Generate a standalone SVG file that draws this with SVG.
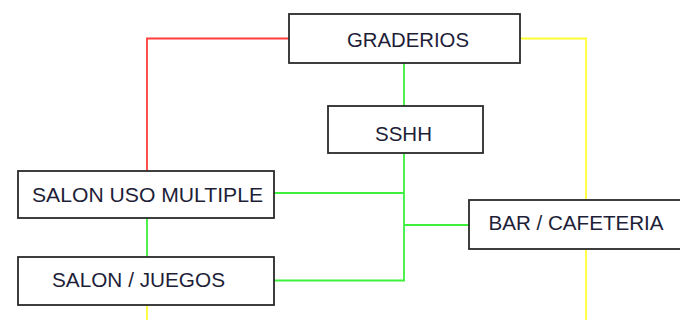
<svg xmlns="http://www.w3.org/2000/svg" width="680" height="320" viewBox="0 0 680 320">
<style>
.box{fill:#ffffff;stroke:#2a2a2a;stroke-width:1.8}
.lbl{font-family:"Liberation Sans",Arial,sans-serif;font-size:21px;fill:#1e1e38}
.ln{fill:none;stroke-width:1.8}
.red{stroke:#ff3c3c}
.grn{stroke:#3cf03c}
.yel{stroke:#ffff33}
</style>
<rect width="680" height="320" fill="#ffffff"/>
<g id="connectors">
<polyline class="ln red" points="289,38.5 147,38.5 147,171"/>
<polyline class="ln yel" points="520,38.5 586,38.5 586,200"/>
<line class="ln yel" x1="586" y1="249" x2="586" y2="320"/>
<line class="ln yel" x1="147" y1="305" x2="147" y2="320"/>
<line class="ln grn" x1="404" y1="63" x2="404" y2="106"/>
<polyline class="ln grn" points="404,153 404,280.5 274,280.5"/>
<line class="ln grn" x1="274" y1="193" x2="404" y2="193"/>
<line class="ln grn" x1="404" y1="225" x2="469" y2="225"/>
<line class="ln grn" x1="147" y1="218" x2="147" y2="257"/>
</g>
<g id="graderios">
<rect class="box" x="289" y="14" width="231" height="49"/>
<text class="lbl" x="347" y="46.5" textLength="122" lengthAdjust="spacingAndGlyphs">GRADERIOS</text>
</g>
<g id="sshh">
<rect class="box" x="328" y="106" width="155" height="47"/>
<text class="lbl" x="375" y="141" textLength="57" lengthAdjust="spacingAndGlyphs">SSHH</text>
</g>
<g id="salon-uso-multiple">
<rect class="box" x="18" y="171" width="256" height="47"/>
<text class="lbl" x="32" y="201.5" textLength="231" lengthAdjust="spacingAndGlyphs">SALON USO MULTIPLE</text>
</g>
<g id="salon-juegos">
<rect class="box" x="18" y="257" width="256" height="48"/>
<text class="lbl" x="52" y="287" textLength="173" lengthAdjust="spacingAndGlyphs">SALON / JUEGOS</text>
</g>
<g id="bar-cafeteria">
<rect class="box" x="469" y="200" width="230" height="49"/>
<text class="lbl" x="488.5" y="230" textLength="175" lengthAdjust="spacingAndGlyphs">BAR / CAFETERIA</text>
</g>
</svg>
